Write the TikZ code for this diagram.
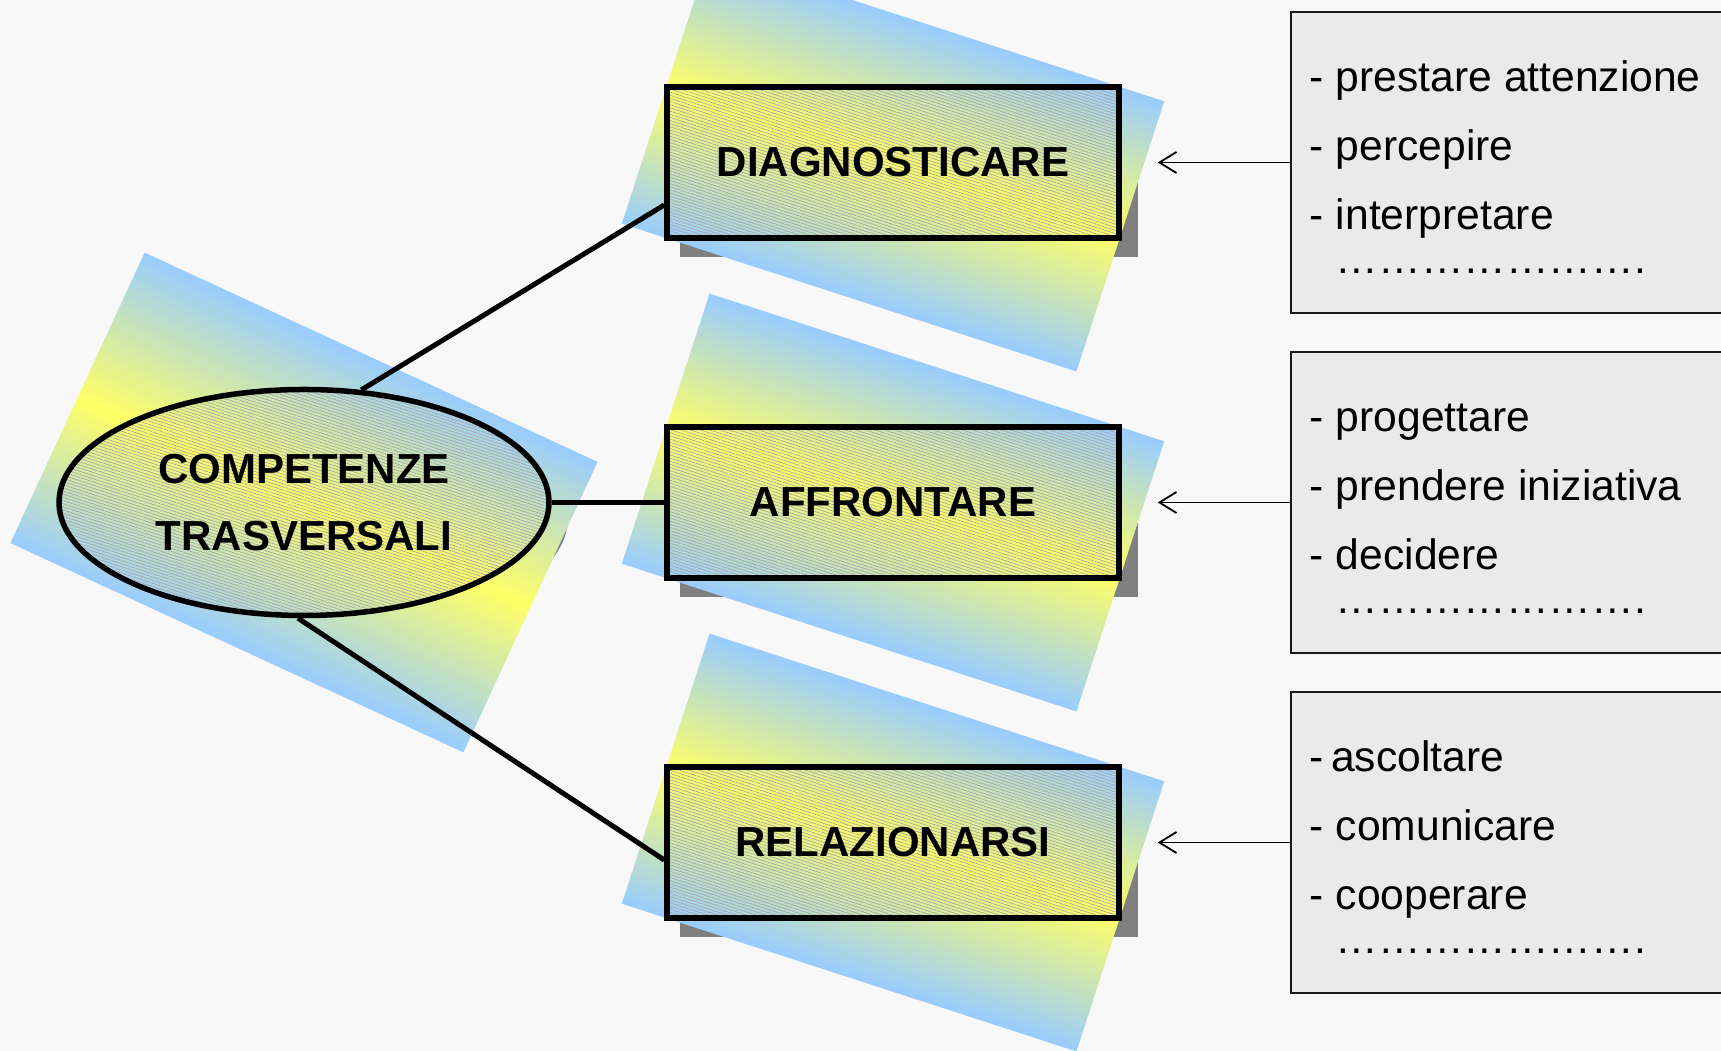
\documentclass[tikz,border=0pt]{standalone}
\usepackage{fontspec}
\setmainfont{Liberation Sans}
\usetikzlibrary{shapes.geometric, arrows.meta, positioning, patterns.meta}

\definecolor{pagegray}{HTML}{F8F8F8}
\definecolor{listgray}{HTML}{EAEAEA}
\definecolor{shadowgray}{HTML}{808080}
\definecolor{decoblue}{HTML}{99CCFF}
\definecolor{decoyellow}{HTML}{FFFF66}

\pgfdeclarelayer{back}
\pgfdeclarelayer{mid}
\pgfsetlayers{back,mid,main}

\tikzstyle{keybox} = [rectangle, minimum width=452pt, minimum height=151pt, text centered, draw=black, line width=5.5pt, font={\bfseries\fontsize{42}{50}\selectfont}]
\tikzstyle{keyoval} = [ellipse, minimum width=490pt, minimum height=226pt, align=center, draw=black, line width=5.5pt, font={\bfseries\fontsize{42}{67}\selectfont}]
\tikzstyle{listbox} = [rectangle, minimum width=480pt, minimum height=301pt, draw=black!90, line width=1.8pt, fill=listgray]
\tikzstyle{listtext} = [align=left, inner sep=0pt, font={\fontsize{42.6}{69}\selectfont}]
\tikzstyle{arrow} = [line width=1.8pt, -{Straight Barb[length=17pt, width=21pt]}, shorten >=36pt]
\tikzstyle{link} = [line width=5pt]
\tikzstyle{deco} = [top color=decoblue, bottom color=decoblue, middle color=decoyellow]
\tikzstyle{shadow} = [fill=shadowgray]
\tikzstyle{hatch} = [pattern={Lines[angle=-18, distance=3pt, line width=0.7pt]}, pattern color=gray!70]

% tilted shaded slab: centre, angle, half width, half height
\newcommand{\slab}[4]{%
  \begin{scope}[transform canvas={rotate around={#2:(#1)}}]
    \shade[deco] ([shift={(-#3pt,-#4pt)}]#1) rectangle ([shift={(#3pt,#4pt)}]#1);
  \end{scope}}
\newcommand{\dotsrow}{\phantom{- }{…}{…}{…}{…}{…}{…}{…}.}

\begin{document}
\begin{tikzpicture}[x=1pt, y=1pt, node distance=183.5pt]

\path[use as bounding box] (0,0) rectangle (1721,1051);

\node (diag) [keybox] at (893,888.5) {DIAGNOSTICARE};
\node (affr) [keybox, below=of diag] {AFFRONTARE};
\node (rel) [keybox, below=of affr] {RELAZIONARSI};
\node (comp) [keyoval, left=112.5pt of affr] {COMPETENZE\\TRASVERSALI};

\node (diaglist) [listbox, right=168pt of diag] {};
\node (affrlist) [listbox, right=168pt of affr] {};
\node (rellist) [listbox, right=168pt of rel] {};

\node (diagtext) [listtext, anchor=base west] at ([shift={(20pt,-111pt)}]diaglist.west)
  {- prestare attenzione\\- percepire\\- interpretare\\[-25pt]\dotsrow};
\node (affrtext) [listtext, anchor=base west] at ([shift={(20pt,-111pt)}]affrlist.west)
  {- progettare\\- prendere iniziativa\\- decidere\\[-25pt]\dotsrow};
\node (reltext) [listtext, anchor=base west] at ([shift={(20pt,-111pt)}]rellist.west)
  {-\,ascoltare\\- comunicare\\- cooperare\\[-25pt]\dotsrow};

\draw [arrow] (diaglist.west) -- (diag.east);
\draw [arrow] (affrlist.west) -- (affr.east);
\draw [arrow] (rellist.west) -- (rel.east);

\draw [link] (comp.63) -- ([yshift=-42.5pt]diag.west);
\draw [link] (comp.east) -- (affr.west);
\draw [link] (comp.267) -- ([yshift=-17.5pt]rel.west);

% shadows and tilted slabs behind
\begin{pgfonlayer}{back}
\fill[pagegray] (0,0) rectangle (1721,1051);
\fill[shadow] ([shift={(16pt,-16pt)}]comp.center) ellipse [x radius=247.75pt, y radius=115.75pt];
\fill[shadow] ([shift={(16pt,-16pt)}]diag.south west) rectangle ([shift={(16pt,-16pt)}]diag.north east);
\fill[shadow] ([shift={(16pt,-16pt)}]affr.south west) rectangle ([shift={(16pt,-16pt)}]affr.north east);
\fill[shadow] ([shift={(16pt,-16pt)}]rel.south west) rectangle ([shift={(16pt,-16pt)}]rel.north east);
\slab{comp.center}{-24.8}{249.5}{160}
\slab{diag.center}{-18}{239}{142}
\slab{affr.center}{-18}{239}{142}
\slab{rel.center}{-18}{239}{142}
\end{pgfonlayer}

% hatched fills of the key shapes
\begin{pgfonlayer}{mid}
\begin{scope}
  \clip (comp.center) ellipse [x radius=245pt, y radius=113pt];
  \slab{comp.center}{-24.8}{249.5}{160}
\end{scope}
\fill[hatch] (comp.center) ellipse [x radius=245pt, y radius=113pt];
\begin{scope}
  \clip (diag.south west) rectangle (diag.north east);
  \slab{diag.center}{-18}{239}{142}
\end{scope}
\fill[hatch] (diag.south west) rectangle (diag.north east);
\begin{scope}
  \clip (affr.south west) rectangle (affr.north east);
  \slab{affr.center}{-18}{239}{142}
\end{scope}
\fill[hatch] (affr.south west) rectangle (affr.north east);
\begin{scope}
  \clip (rel.south west) rectangle (rel.north east);
  \slab{rel.center}{-18}{239}{142}
\end{scope}
\fill[hatch] (rel.south west) rectangle (rel.north east);
\end{pgfonlayer}

\end{tikzpicture}
\end{document}
